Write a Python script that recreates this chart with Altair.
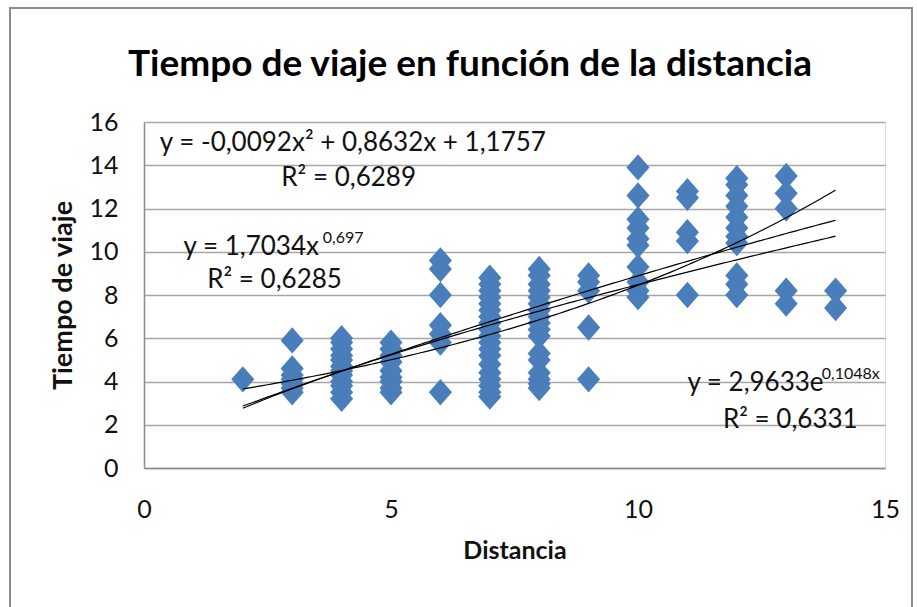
import altair as alt
import numpy as np
import pandas as pd

# Observed trips: distance (x) and travel time (y), grouped by distance
distancia = (
    [2]
    + [3] * 7
    + [4] * 12
    + [5] * 9
    + [6] * 7
    + [7] * 19
    + [8] * 17
    + [9] * 5
    + [10] * 10
    + [11] * 5
    + [12] * 11
    + [13] * 5
    + [14] * 2
)
tiempo = (
    [4.1]
    + [5.9, 4.6, 4.3, 4.1, 3.9, 3.7, 3.5]
    + [6.0, 5.8, 5.5, 5.2, 5.0, 4.7, 4.5, 4.3, 4.0, 3.8, 3.5, 3.2]
    + [5.8, 5.5, 5.2, 4.9, 4.5, 4.2, 4.0, 3.7, 3.5]
    + [9.6, 9.2, 8.0, 6.6, 6.2, 5.8, 3.5]
    + [8.8, 8.5, 8.2, 7.9, 7.6, 7.3, 7.0, 6.7, 6.4, 6.1, 5.8, 5.5, 5.2,
       4.8, 4.4, 4.1, 3.8, 3.5, 3.3]
    + [9.2, 8.9, 8.5, 8.2, 7.9, 7.6, 7.3, 7.0, 6.7, 6.4, 6.1, 5.3, 5.0,
       4.4, 4.1, 3.9, 3.7]
    + [8.9, 8.6, 8.2, 6.5, 4.1]
    + [13.9, 12.6, 11.5, 11.1, 10.6, 10.3, 9.3, 8.6, 8.2, 7.9]
    + [12.8, 12.5, 10.9, 10.5, 8.0]
    + [13.4, 13.1, 12.6, 12.1, 11.6, 11.1, 10.7, 10.4, 8.9, 8.5, 8.0]
    + [13.5, 12.7, 12.0, 8.2, 7.6]
    + [8.2, 7.4]
)

# Fitted trend lines (coefficients as reported on the chart)
poly_coef = [-0.0092, 0.8632, 1.1757]   # a*x^2 + b*x + c
power_coef = [1.7034, 0.697]            # a*x^b
expo_coef = [2.9633, 0.1048]            # a*e^(b*x)
trend_range = [2, 14]

# Equation labels
label_text = [
    "y = -0,0092x² + 0,8632x + 1,1757",
    "R² = 0,6289",
    "y = 1,7034x",
    "R² = 0,6285",
    "y = 2,9633e",
    "R² = 0,6331",
]
label_x = [0.32, 2.78, 0.80, 1.28, 11.00, 11.72]
label_y = [15.03, 13.42, 10.22, 8.69, 3.94, 2.22]

sup_text = ["0,697", "0,1048x"]
sup_x = [3.62, 13.72]
sup_y = [10.64, 4.34]

TITLE = "Tiempo de viaje en función de la distancia"
FONT = "Lato"
W, H = 741, 346

points = pd.DataFrame({"Distancia": distancia, "Tiempo": tiempo})

xs = np.linspace(trend_range[0], trend_range[1], 121)
trend = pd.concat([
    pd.DataFrame({"Distancia": xs,
                  "Tiempo": poly_coef[0] * xs**2 + poly_coef[1] * xs + poly_coef[2],
                  "Ajuste": "Polinómica"}),
    pd.DataFrame({"Distancia": xs,
                  "Tiempo": power_coef[0] * xs**power_coef[1],
                  "Ajuste": "Potencial"}),
    pd.DataFrame({"Distancia": xs,
                  "Tiempo": expo_coef[0] * np.exp(expo_coef[1] * xs),
                  "Ajuste": "Exponencial"}),
])

labels = pd.DataFrame({"x": label_x, "y": label_y, "t": label_text})
sups = pd.DataFrame({"x": sup_x, "y": sup_y, "t": sup_text})

x_scale = alt.Scale(domain=[0, 15], nice=False, zero=False)
y_scale = alt.Scale(domain=[0, 16], nice=False)

x_enc = alt.X(
    "Distancia:Q",
    scale=x_scale,
    axis=alt.Axis(
        values=[0, 5, 10, 15],
        grid=False,
        ticks=False,
        labelFlush=False,
        domainColor="#8c8c8c",
        domainWidth=1.5,
        labelFont=FONT,
        labelFontSize=25,
        labelColor="#111",
        labelPadding=29,
        title="Distancia",
        titleFont=FONT,
        titleFontSize=25,
        titleFontWeight="bold",
        titleColor="#111",
        titlePadding=16,
    ),
)
y_enc = alt.Y(
    "Tiempo:Q",
    scale=y_scale,
    axis=alt.Axis(
        values=list(range(0, 17, 2)),
        grid=True,
        gridColor="#a6a6a6",
        gridWidth=1.5,
        ticks=False,
        domainColor="#8c8c8c",
        domainWidth=1.5,
        labelFont=FONT,
        labelFontSize=25,
        labelColor="#111",
        labelPadding=26,
        title="Tiempo de viaje",
        titleFont=FONT,
        titleFontSize=27,
        titleFontWeight="bold",
        titleColor="#111",
        titlePadding=11,
    ),
)

diamond = "M0,-1.2L1.05,0L0,1.2L-1.05,0Z"

scatter = alt.Chart(points).mark_point(
    shape=diamond, filled=True, size=484, color="#4A7EBB", opacity=1
).encode(x=x_enc, y=y_enc)

lines = alt.Chart(trend).mark_line(color="black", strokeWidth=1.2).encode(
    x=alt.X("Distancia:Q", scale=x_scale),
    y=alt.Y("Tiempo:Q", scale=y_scale),
    detail="Ajuste:N",
)

eq_text = alt.Chart(labels).mark_text(
    align="left", baseline="middle", font=FONT, fontSize=26, color="#111"
).encode(
    x=alt.X("x:Q", scale=x_scale),
    y=alt.Y("y:Q", scale=y_scale),
    text="t:N",
)

sup_marks = alt.Chart(sups).mark_text(
    align="left", baseline="middle", font=FONT, fontSize=16, color="#111"
).encode(
    x=alt.X("x:Q", scale=x_scale),
    y=alt.Y("y:Q", scale=y_scale),
    text="t:N",
)

# Chart heading, centred over the whole frame
heading = alt.Chart(pd.DataFrame({"t": [TITLE]})).mark_text(
    align="center", baseline="alphabetic", font=FONT, fontSize=37,
    fontWeight="bold", color="#000"
).encode(x=alt.value(326), y=alt.value(-46), text="t:N")

# Outer chart frame
frame = alt.Chart(pd.DataFrame({"k": [0]})).mark_rect(
    fillOpacity=0, stroke="#8c8c8c", strokeWidth=2
).encode(
    x=alt.value(-134), x2=alt.value(W + 27),
    y=alt.value(-114), y2=alt.value(H + 160),
)

chart = alt.layer(frame, scatter, lines, eq_text, sup_marks, heading).properties(
    width=W,
    height=H,
    autosize=alt.AutoSizeParams(type="none"),
    padding={"left": 144, "top": 122, "right": 32, "bottom": 139},
).configure_view(stroke=None).configure(background="white")

chart.save("out.html", embed_options={"renderer": "svg", "actions": False})
